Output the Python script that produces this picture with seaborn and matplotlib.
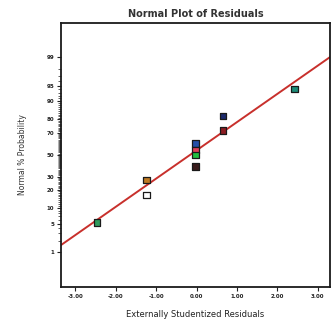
import numpy as np
import pandas as pd
import matplotlib
matplotlib.use("Agg")
import matplotlib.pyplot as plt
import seaborn as sns
from statistics import NormalDist

# ---- data ----
resid = [-2.46, -1.24, -1.24, -0.02, -0.02, -0.02, -0.02, 0.65, 0.65, 2.42]
prob_pct = [5.3, 27.1, 16.6, 60.6, 54.4, 49.6, 38.6, 82.1, 71.9, 94.1]
point_colors = ["#2f9a5c", "#c07a22", "#ffffff", "#2550a8", "#e0405a",
                "#22c040", "#3a1c1c", "#1c2a6c", "#8c1c22", "#1c8c78"]
fit_x = [-3.35, 3.3]
fit_pct = [1.54, 99.0]
ytick_pct = [1, 5, 10, 20, 30, 50, 70, 80, 90, 95, 99]
xtick_vals = [-3.0, -2.0, -1.0, 0.0, 1.0, 2.0, 3.0]

nd = NormalDist()
def z(p):
    return nd.inv_cdf(p / 100.0)

df = pd.DataFrame({"x": resid, "z": [z(p) for p in prob_pct],
                   "id": [str(i) for i in range(len(resid))]})
fit_df = pd.DataFrame({"x": fit_x, "z": [z(p) for p in fit_pct]})

sns.set_theme(style="white")
plt.rcParams["font.family"] = ["DejaVu Sans"]

fig = plt.figure(figsize=(3.31, 3.29), dpi=100)
ax = fig.add_axes([61/331, 1-287/329, (330-61)/331, (287-23)/329])

sns.lineplot(data=fit_df, x="x", y="z", ax=ax, color="#c8302c", lw=1.4,
             legend=False, zorder=2)
sns.scatterplot(data=df, x="x", y="z", hue="id", palette=point_colors,
                marker="s", s=22, edgecolor="#1a1a1a", linewidth=0.9,
                ax=ax, legend=False, zorder=3)

ax.set_xlim(-3.35, 3.3)
ax.set_ylim(-3.16, 3.14)
ax.set_xticks(xtick_vals)
ax.set_xticklabels([f"{v:.2f}" for v in xtick_vals], fontweight="bold")
ax.set_yticks([z(p) for p in ytick_pct])
ax.set_yticklabels([str(p) for p in ytick_pct], fontweight="bold")
minor = [z(p) for p in range(2, 99) if p not in ytick_pct]
ax.set_yticks(minor, minor=True)

for s in ax.spines.values():
    s.set_color("#1a1a1a")
    s.set_linewidth(1.3)
ax.tick_params(axis="both", which="major", direction="out", length=3,
               width=0.8, labelsize=4, colors="#222222", pad=2)
ax.tick_params(axis="y", which="minor", direction="out", length=2,
               width=0.5, left=True, colors="#222222")
ax.tick_params(axis="x", bottom=True)
ax.tick_params(axis="y", left=True)

ax.set_title("Normal Plot of Residuals", fontsize=7, fontweight="bold",
             color="#333333", pad=4)
ax.set_xlabel("Externally Studentized Residuals", fontsize=6,
              color="#222222", labelpad=8)
ax.set_ylabel("Normal % Probability", fontsize=5.5, color="#333333",
              labelpad=14)

fig.savefig("out.png", dpi=100)
